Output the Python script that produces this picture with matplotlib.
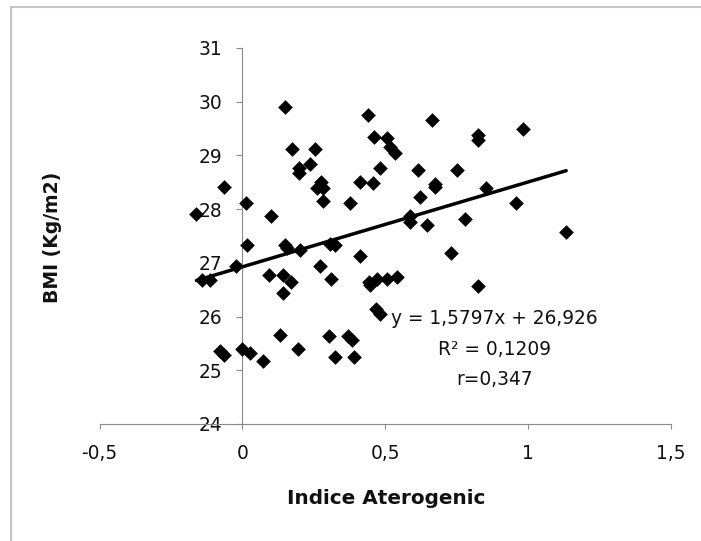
"""
BMI vs Indice Aterogenic scatter with linear trend line
"""

import numpy as np
import matplotlib
matplotlib.use("Agg")
import matplotlib.pyplot as plt
from matplotlib.patches import Rectangle

# ─── Data ────────────────────────────────────────────────────────────────────
IDX = [-0.161, -0.065, 0.014, 0.100, 0.150, 0.174, 0.253, 0.197, 0.198, 0.238,
       0.275, 0.282, 0.261, 0.282, 0.378, 0.015, 0.150, 0.156, 0.200, 0.305,
       0.325, -0.021, 0.273, -0.141, -0.114, 0.094, 0.142, 0.171, 0.142, 0.310,
       0.130, 0.195, 0.303, 0.370, 0.385, 0.325, 0.389, -0.078, -0.064, -0.003,
       0.028, 0.073, 0.438, 0.462, 0.506, 0.517, 0.535, 0.483, 0.410, 0.457,
       0.613, 0.622, 0.587, 0.587, 0.646, 0.663, 0.824, 0.824, 0.981, 0.751,
       0.675, 0.675, 0.853, 0.958, 0.780, 1.133, 0.412, 0.730, 0.442, 0.448,
       0.471, 0.506, 0.541, 0.468, 0.480, 0.826]
BMI = [27.91, 28.42, 28.12, 27.87, 29.91, 29.12, 29.12, 28.76, 28.67, 28.84,
       28.51, 28.39, 28.39, 28.15, 28.12, 27.34, 27.33, 27.27, 27.24, 27.35,
       27.33, 26.95, 26.95, 26.68, 26.68, 26.78, 26.78, 26.64, 26.43, 26.69,
       25.66, 25.39, 25.63, 25.63, 25.56, 25.25, 25.24, 25.35, 25.28, 25.40,
       25.32, 25.17, 29.75, 29.35, 29.32, 29.16, 29.04, 28.76, 28.51, 28.49,
       28.73, 28.22, 27.88, 27.76, 27.70, 29.66, 29.38, 29.29, 29.49, 28.73,
       28.47, 28.41, 28.39, 28.12, 27.81, 27.58, 27.13, 27.19, 26.65, 26.59,
       26.69, 26.70, 26.74, 26.14, 26.04, 26.56]

SLOPE = 1.5797
INTERCEPT = 26.926
R2 = 0.1209
R_COEF = 0.347

X_TICKS = [-0.5, 0, 0.5, 1, 1.5]
X_TICKLABELS = ["-0,5", "0", "0,5", "1", "1,5"]
Y_TICKS = [24, 25, 26, 27, 28, 29, 30, 31]

# ─── Style ───────────────────────────────────────────────────────────────────
AXIS_CLR = "#8a8a8a"
FRAME_CLR = "#c4c4c4"
TXT_CLR = "#111111"
plt.rcParams["font.family"] = ["DejaVu Sans"]

# ─── Figure ──────────────────────────────────────────────────────────────────
fig = plt.figure(figsize=(7.01, 5.41), dpi=100, facecolor="white")
ax = fig.add_axes([0.142, 0.2163, 0.8153, 0.695])

ax.scatter(IDX, BMI, marker="D", s=56, color="black", linewidths=0, zorder=3)

xs = np.array([min(IDX), max(IDX)])
ax.plot(xs, SLOPE * xs + INTERCEPT, color="black", linewidth=2.5,
        solid_capstyle="round", zorder=4)

ax.set_xlim(-0.5, 1.5)
ax.set_ylim(24, 31)
ax.set_xticks(X_TICKS)
ax.set_xticklabels(X_TICKLABELS)
ax.set_yticks(Y_TICKS)
ax.set_yticklabels([str(v) for v in Y_TICKS])

# y axis crosses at x = 0
ax.spines["left"].set_position(("data", 0))
ax.spines["top"].set_visible(False)
ax.spines["right"].set_visible(False)
for s in ("left", "bottom"):
    ax.spines[s].set_color(AXIS_CLR)
    ax.spines[s].set_linewidth(0.8)

ax.tick_params(axis="y", direction="out", length=4.3, width=0.8,
               color=AXIS_CLR, labelsize=13.4, labelcolor=TXT_CLR, pad=10)
ax.tick_params(axis="x", direction="out", length=3.6, width=0.8,
               color=AXIS_CLR, labelsize=13.4, labelcolor=TXT_CLR, pad=11)

# ─── Regression annotation ───────────────────────────────────────────────────
eq_txt = f"y = {SLOPE:.4f}x + {INTERCEPT:.3f}".replace(".", ",")
r2_txt = f"R² = {R2:.4f}".replace(".", ",")
r_txt = f"r={R_COEF:.3f}".replace(".", ",")
for txt, yy in zip([eq_txt, r2_txt, r_txt], [25.955, 25.38, 24.82]):
    ax.text(0.881, yy, txt, ha="center", va="center",
            fontsize=13.4, color=TXT_CLR, zorder=5)

# ─── Axis titles ─────────────────────────────────────────────────────────────
fig.text(386 / 701, 1 - 498 / 541, "Indice Aterogenic", ha="center",
         va="center", fontsize=14.4, fontweight="bold", color=TXT_CLR)
fig.text(52 / 701, 1 - 237 / 541, "BMI (Kg/m2)", ha="center", va="center",
         rotation=90, fontsize=13.5, fontweight="bold", color=TXT_CLR)

# ─── Outer chart frame (cut off at right / bottom) ───────────────────────────
fig.patches.append(Rectangle((11 / 701, -0.05), 1.0, 1 - 7 / 541 + 0.05,
                             transform=fig.transFigure, fill=False,
                             edgecolor=FRAME_CLR, linewidth=1.5))

fig.savefig("out.png", dpi=100, facecolor="white")
